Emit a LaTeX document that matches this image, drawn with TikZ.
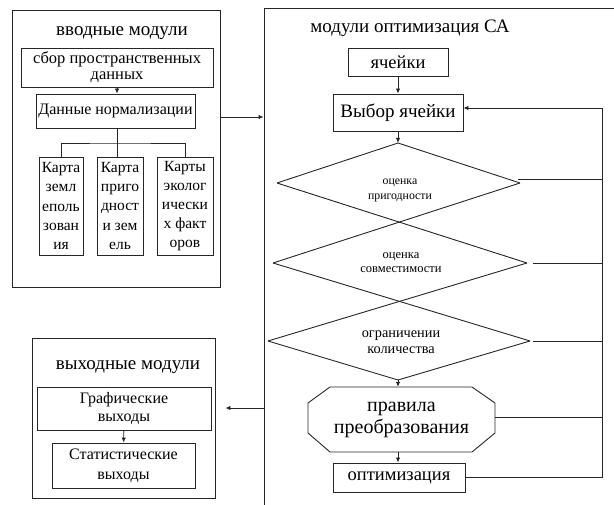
\documentclass[tikz,border=0pt]{standalone}
\usepackage{fontspec}
\setmainfont{Liberation Serif}
\usetikzlibrary{arrows.meta}
\tikzset{
  ln/.style={line width=0.9pt, draw=black!85},
  arr/.style={ln, -{Latex[length=5pt,width=4.5pt]}},
  box/.style={ln, draw, rectangle, inner sep=0pt, align=center},
  lbl/.style={inner sep=0pt, align=center},
}
\newcommand{\fs}[2]{\fontsize{#1}{#2}\selectfont}
\begin{document}
\begin{tikzpicture}[x=1pt,y=-1pt]
\useasboundingbox (0,0) rectangle (614,505);
\clip (0,0) rectangle (614,505);
% ---------- input modules ----------
\node[box, minimum width=208pt, minimum height=277pt] (inbox) at (116,148.5) {};
\node[lbl, font=\fs{19}{22}] (intitle) at (122,33) {вводные модули};
\node[box, minimum width=192pt, minimum height=39pt, font=\fs{16.5}{16}] (sbor) at (117,67.5) {сбор  пространственных\\данных};
\node[box, minimum width=159pt, minimum height=34pt, font=\fs{16}{18}] (norm) at (115.5,111) {Данные нормализации};
\node[box, minimum width=44pt, minimum height=98pt, font=\fs{15.5}{19.2}] (k1) at (61,206) {Карта\\земл\\еполь\\зован\\ия};
\node[box, minimum width=46pt, minimum height=98pt, font=\fs{15.5}{19.2}] (k2) at (120,206) {Карта\\приго\\дност\\и зем\\ель};
\node[box, minimum width=56pt, minimum height=98pt, font=\fs{15.5}{19.2}] (k3) at (185,206) {Карты\\эколог\\ически\\х факт\\оров};
\draw[arr] (sbor.south -| 117,0) -- (norm.north -| 117,0);
\coordinate (t) at (117,143);
\draw[ln] (norm.south -| t) -- (t);
\draw[ln] (k1.north) |- (t) -| (k3.north);
\draw[ln] (t) -- (t |- k2.north);
% ---------- optimisation modules ----------
\node[box, minimum width=376pt, minimum height=522pt] (opt) at (452,269) {};
\draw[arr] (inbox.east |- 0,117) -- (opt.west |- 0,117);
\node[lbl, font=\fs{19}{22}] (opttitle) at (410,28) {модули  оптимизация СА};
\node[box, minimum width=100pt, minimum height=28pt, font=\fs{18.5}{20}] (cells) at (398,62) {ячейки};
\node[box, minimum width=130pt, minimum height=37pt, font=\fs{19}{20}] (sel) at (398,112.5) {Выбор ячейки};
\draw[arr] (cells) -- (sel);
% chained diamonds
\coordinate (d1t) at (398,143);
\coordinate (d1l) at (277,183);
\coordinate (d1r) at (520,183);
\coordinate (d2l) at (273,263);
\coordinate (d2r) at (527,263);
\coordinate (d3l) at (268,341);
\coordinate (d3r) at (530,341);
\coordinate (d3b) at (398,380);
\draw[arr] (sel) -- (d1t);
\draw[ln] (d1l) -- (d1t) -- (d1r);
\draw[ln] (d1l) -- (d2r);
\draw[ln] (d1r) -- (d2l);
\draw[ln] (d2l) -- (d3r);
\draw[ln] (d2r) -- (d3l);
\draw[ln] (d3l) -- (d3b) -- (d3r);
\node[lbl, font=\fs{11.8}{15}] (q1) at (400,190.5) {оценка\\пригодности};
\node[lbl, font=\fs{12.5}{14}] (q2) at (401,262.5) {оценка\\совместимости};
\node[lbl, font=\fs{14.3}{16}] (q3) at (401,342.5) {ограничении\\количества};
% octagon
\node[lbl, minimum width=187pt, minimum height=65pt, font=\fs{20}{22}] (rules) at (401.5,419.5) {правила\\преобразования};
\draw[ln] (330,387) -- (472,387) -- (495,403) -- (495,433) -- (472,452) -- (330,452) -- (308,433) -- (308,403) -- cycle;
\draw[arr] (d3b) -- (d3b |- rules.north);
\node[box, minimum width=132pt, minimum height=29pt, font=\fs{18.5}{20}] (optim) at (399,477.5) {оптимизация};
\draw[arr] (rules.south -| 398,0) -- (optim.north -| 398,0);
% feedback loop
\coordinate (fb) at (602,108);
\draw[arr] (optim.east) -| (fb) -- (sel.east |- fb);
\draw[ln] (rules.east |- 0,417) -- (fb |- 0,417);
\draw[ln] (533,341) -- (fb |- 0,341);
\draw[ln] (533,263) -- (fb |- 0,263);
\draw[ln] (518,179) -- (fb |- 0,179);
% ---------- output modules ----------
\node[box, minimum width=183pt, minimum height=160pt] (outbox) at (123.5,418) {};
\node[lbl, font=\fs{19}{22}] (outtitle) at (128,367) {выходные модули};
\node[box, minimum width=174pt, minimum height=43pt, font=\fs{16}{18}] (graph) at (124,408.5) {Графические\\выходы};
\node[box, minimum width=143pt, minimum height=45pt, font=\fs{16}{20}] (stat) at (123.5,465.5) {Статистические\\выходы};
\draw[arr] (graph) -- (stat);
\draw[arr, shorten >=10pt] (opt.west |- 0,408) -- (outbox.east |- 0,408);
\end{tikzpicture}
\end{document}
